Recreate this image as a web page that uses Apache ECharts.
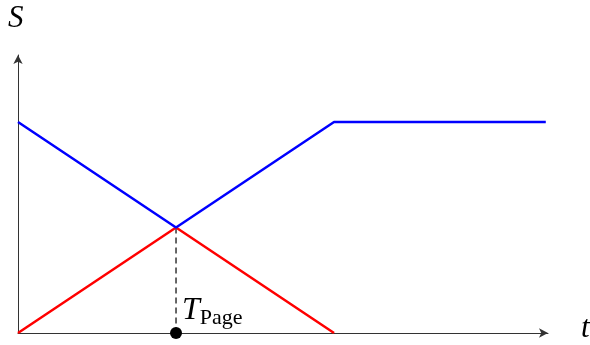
<!DOCTYPE html>
<html>
<head>
<meta charset="utf-8">
<script src="https://cdn.jsdelivr.net/npm/echarts@6/dist/echarts.min.js"></script>
<style>
  html, body { margin: 0; padding: 0; background: #fff; }
  #main { width: 590px; height: 345px; }
</style>
</head>
<body>
<div id="main"></div>
<script>
// data in axis units (t horizontally, S vertically)
var blueLine = [[0, 2], [1, 1], [2, 2], [3.34, 2]];
var redLine = [[0, 0], [1, 1], [2, 0]];
var dropLine = [[1, 1], [1, 0]];
var pagePoint = [[1, 0]];

var chart = echarts.init(document.getElementById('main'));
var serif = '"Liberation Serif", "DejaVu Serif", serif';

chart.setOption({
  animation: false,
  grid: { left: 18, top: 55, width: 530, height: 278 },
  xAxis: {
    type: 'value', min: 0, max: 3.354,
    axisLine: { lineStyle: { color: '#333', width: 1 }, symbol: ['none', 'arrow'], symbolSize: [7, 9] },
    axisTick: { show: false }, axisLabel: { show: false }, splitLine: { show: false }
  },
  yAxis: {
    type: 'value', min: 0, max: 2.635,
    axisLine: { show: true, lineStyle: { color: '#333', width: 1 }, symbol: ['none', 'arrow'], symbolSize: [7, 9] },
    axisTick: { show: false }, axisLabel: { show: false }, splitLine: { show: false }
  },
  graphic: [
    { type: 'text', left: 8, top: 3, style: { text: 'S', fontFamily: serif, fontStyle: 'italic', fontSize: 31, fill: '#000' } },
    { type: 'text', left: 581, top: 313, style: { text: 't', fontFamily: serif, fontStyle: 'italic', fontSize: 31, fill: '#000' } }
  ],
  series: [
    { type: 'line', data: dropLine, symbol: 'none', z: 1,
      lineStyle: { color: '#000', width: 1.2, type: [6, 4] } },
    { type: 'line', data: redLine, symbol: 'none', z: 2,
      lineStyle: { color: '#ff0000', width: 2.5 } },
    { type: 'line', data: blueLine, symbol: 'none', z: 3,
      lineStyle: { color: '#0000ff', width: 2.5 } },
    { type: 'scatter', data: pagePoint, symbolSize: 12, z: 4,
      itemStyle: { color: '#000', opacity: 1 },
      label: {
        show: true, position: [12, -34],
        formatter: '{t|T}{s|Page}',
        rich: {
          t: { fontFamily: serif, fontStyle: 'italic', fontSize: 32, color: '#000' },
          s: { fontFamily: serif, fontSize: 22, color: '#000', padding: [14, 0, 0, 0] }
        }
      }
    }
  ]
});
</script>
</body>
</html>
